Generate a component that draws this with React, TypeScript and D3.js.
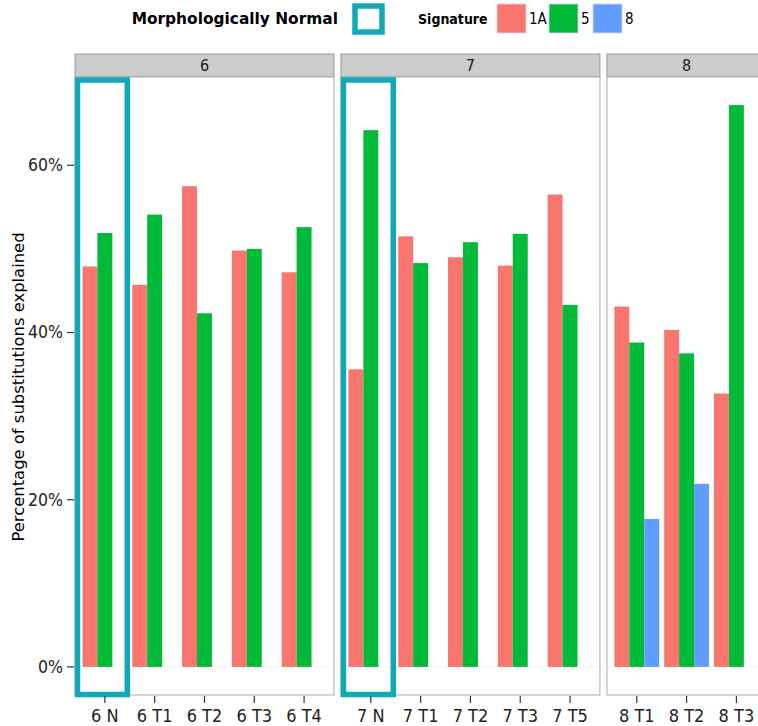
import React from "react";
import * as d3 from "d3";

// signatures and colours (ggplot default hues)
const signatures = ["1A", "5", "8"];
const sigColors = ["#F8766D", "#00BA38", "#619CFF"];

const panelIds = ["6", "7", "8"];
const samples6 = ["6 N", "6 T1", "6 T2", "6 T3", "6 T4"];
const samples7 = ["7 N", "7 T1", "7 T2", "7 T3", "7 T5"];
const samples8 = ["8 T1", "8 T2", "8 T3"];

// % of substitutions explained, one array per signature per patient
const sig1A_6 = [47.9, 45.7, 57.5, 49.8, 47.2];
const sig5_6 = [51.9, 54.1, 42.3, 50.0, 52.6];
const sig8_6 = [0, 0, 0, 0, 0];
const sig1A_7 = [35.6, 51.5, 49.0, 48.0, 56.5];
const sig5_7 = [64.2, 48.3, 50.8, 51.8, 43.3];
const sig8_7 = [0, 0, 0, 0, 0];
const sig1A_8 = [43.1, 40.3, 32.7];
const sig5_8 = [38.8, 37.5, 67.2];
const sig8_8 = [17.7, 21.9, 0];

const normalSamples = ["6 N", "7 N"];
const yTicks = [0, 20, 40, 60];

const W = 758;
const H = 726;
const panelTop = 77;
const panelBottom = 695;
const stripH = 23;
const unit = 49.8;
const gap = 7;
const teal = "#10AAB4";
const condensed = "'DejaVu Sans Condensed', 'DejaVu Sans', sans-serif";

export default function App() {
  const panels = [
    { id: panelIds[0], samples: samples6, vals: [sig1A_6, sig5_6, sig8_6] },
    { id: panelIds[1], samples: samples7, vals: [sig1A_7, sig5_7, sig8_7] },
    { id: panelIds[2], samples: samples8, vals: [sig1A_8, sig5_8, sig8_8] },
  ];

  const yMax = d3.max(panels.flatMap((p) => p.vals.flat())) ?? 1;
  const y = d3
    .scaleLinear()
    .domain([-yMax * 0.05, yMax * 1.05])
    .range([panelBottom, panelTop]);

  let x0 = 75;
  const laid = panels.map((p) => {
    const w = (p.samples.length + 0.2) * unit;
    const x = d3
      .scaleBand()
      .domain(p.samples)
      .range([x0, x0 + w])
      .paddingInner(0)
      .paddingOuter(0.1);
    const out = { ...p, x, x0, w };
    x0 += w + gap;
    return out;
  });

  return (
    <div style={{ position: "absolute", left: 0, top: 0 }}>
      <svg width={W} height={H} style={{ display: "block", background: "#fff" }}>
        {/* legend */}
        <g>
          <text x={338} y={24} textAnchor="end" fontWeight="bold" fontSize={15.4} fontFamily="'DejaVu Sans', sans-serif">
            Morphologically Normal
          </text>
          <rect x={355} y={6} width={27} height={26} fill="#fff" stroke={teal} strokeWidth={5.5} />
          <text x={418} y={24} fontWeight="bold" fontSize={14} fontFamily={condensed}>
            Signature
          </text>
          {signatures.map((s, i) => {
            const lx = [497, 549, 593][i];
            return (
              <g key={s}>
                <rect x={lx} y={4} width={29} height={29} fill={sigColors[i]} stroke="#ddd" strokeWidth={0.8} />
                <text x={lx + 32} y={24} fontSize={15} fontFamily={condensed}>
                  {s}
                </text>
              </g>
            );
          })}
        </g>

        {/* y axis */}
        <text
          transform={`translate(24,${(panelTop + panelBottom) / 2 + 1}) rotate(-90)`}
          textAnchor="middle"
          fontFamily="'DejaVu Sans', sans-serif"
          fontSize={16.4}
        >
          Percentage of substitutions explained
        </text>
        {yTicks.map((t) => (
          <g key={t} transform={`translate(0,${y(t)})`}>
            <line x1={67} x2={74} stroke="#333" strokeWidth={1.2} />
            <text x={63} y={6} textAnchor="end" fontFamily={condensed} fontSize={17.5} fill="#222">
              {t}%
            </text>
          </g>
        ))}

        {laid.map((p) => {
          const inner = d3
            .scaleBand()
            .domain(signatures)
            .range([0.05 * unit, 0.95 * unit]);
          return (
            <g key={p.id}>
              {/* strip */}
              <rect x={p.x0} y={panelTop - stripH} width={p.w} height={stripH} fill="#CCCCCC" stroke="#999" strokeWidth={1} />
              <text x={p.x0 + p.w / 2} y={panelTop - 6} textAnchor="middle" fontFamily={condensed} fontSize={16} fill="#1a1a1a">
                {p.id}
              </text>
              {/* panel */}
              <rect x={p.x0} y={panelTop} width={p.w} height={panelBottom - panelTop} fill="#fff" stroke="#aaa" strokeWidth={1} />
              <line x1={p.x0} x2={p.x0 + p.w} y1={y(0)} y2={y(0)} stroke="#f0f0f8" strokeWidth={1} />

              {p.samples.map((s, i) => (
                <g key={s} transform={`translate(${p.x(s)},0)`}>
                  {signatures.map((sig, k) => {
                    const v = p.vals[k][i];
                    if (!v) return null;
                    return (
                      <rect
                        key={sig}
                        x={inner(sig)}
                        y={y(v)}
                        width={inner.bandwidth()}
                        height={y(0) - y(v)}
                        fill={sigColors[k]}
                      />
                    );
                  })}
                </g>
              ))}

              {p.samples
                .filter((s) => normalSamples.includes(s))
                .map((s) => {
                  const bx = (p.x(s) ?? 0) - 0.05 * unit;
                  return (
                    <rect
                      key={s}
                      x={bx}
                      y={y(70.2)}
                      width={unit}
                      height={y(-3.3) - y(70.2)}
                      fill="none"
                      stroke={teal}
                      strokeWidth={5.5}
                    />
                  );
                })}

              {/* x axis */}
              {p.samples.map((s) => {
                const cx = (p.x(s) ?? 0) + unit / 2;
                return (
                  <g key={s} transform={`translate(${cx},0)`}>
                    <line y1={panelBottom + 1} y2={panelBottom + 8} stroke="#333" strokeWidth={1.2} />
                    <text y={722} textAnchor="middle" fontFamily={condensed} fontSize={18} fill="#222">
                      {s}
                    </text>
                  </g>
                );
              })}
            </g>
          );
        })}
      </svg>
    </div>
  );
}
